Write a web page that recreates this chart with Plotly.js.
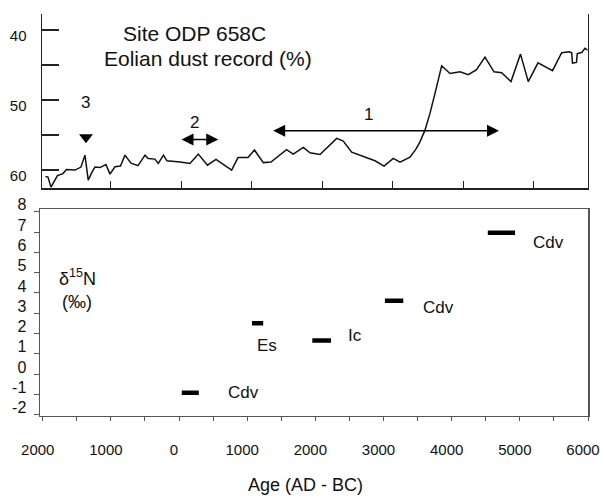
<!DOCTYPE html>
<html><head><meta charset="utf-8">
<script src="https://cdn.plot.ly/plotly-3.0.1.min.js"></script>
<style>html,body{margin:0;padding:0;background:#fff}</style>
</head><body><div id="chart" style="width:603px;height:496px"></div>
<script>
// Top panel: eolian dust record (%), age in years (negative = AD, positive = BC)
const dustAge = [-1925,-1889,-1847,-1804,-1755,-1677,-1627,-1506,-1421,-1365,-1318,-1265,-1223,-1152,-1067,-1010,-939,-861,-797,-712,-613,-513,-467,-372,-325,-251,-201,-17,125,243,373,494,716,806,948,1040,1165,1274,1494,1590,1732,1827,1969,2206,2299,2418,2583,2749,2877,3008,3104,3245,3330,3387,3458,3529,3600,3695,3813,3955,4072,4189,4309,4437,4546,4678,4813,4923,5061,5267,5397,5501,5539,5550,5607,5618,5681,5728,5766];
const dustPct = [60.93,61.0,62.43,61.57,60.79,60.5,59.93,60.0,59.57,57.86,61.43,60.29,59.57,59.64,59.21,60.57,59.53,59.43,57.86,59.0,59.36,57.86,58.36,58.43,59.04,57.86,58.67,58.86,59.04,57.71,59.29,58.47,60.0,58.21,58.21,57.14,58.93,58.86,57.07,57.71,56.76,57.53,57.76,55.47,55.86,57.43,58.0,58.67,59.43,58.33,58.86,58.14,57.0,55.96,54.29,51.9,49.04,45.1,46.19,45.96,46.36,45.64,43.86,45.96,46.1,47.36,43.43,47.36,44.67,45.79,43.24,43.1,43.24,44.71,44.61,43.36,43.21,42.61,42.86];

// Bottom panel: d15N periods
const isoLabels = ['Cdv','Es','Ic','Cdv','Cdv'];
const isoStart = [40,1070,1955,3020,4530];
const isoEnd = [290,1235,2230,3290,4930];
const isoValue = [-0.92,2.5,1.65,3.62,6.97];

// Events marked on the dust record
const eventLabels = ['1','2'];
const eventStart = [1284,-17];
const eventEnd = [4508,526];
const event3Age = [-1350];

// Axis ticks
const bottomTickVals = [-2000,-1500,-1000,-500,0,500,1000,1500,2000,2500,3000,3500,4000,4500,5000,5500,6000];
const bottomTickText = ['2000','','1000','','0','','1000','','2000','','3000','','4000','','5000','','6000'];
const isoTickVals = [-2,-1,0,1,2,3,4,5,6,7,8];
const isoTickText = ['-2','-1','0','1','2','3','4','5','6','7','8'];
const dustTickVals = [40,45,50,55,60];
const dustTickText = ['40','','50','','60'];
const topTickVals = [-1000,0,1000,2000,3000,4000,5000];

const FONT = 'Liberation Sans, Arial, Helvetica, sans-serif';

// build bar segments
const segX = [], segY = [];
isoStart.forEach((s,i)=>{ segX.push(s, isoEnd[i], null); segY.push(isoValue[i], isoValue[i], null); });

const traces = [
  {x: dustAge, y: dustPct, xaxis:'x2', yaxis:'y2', mode:'lines', line:{color:'#111', width:1.5}, hoverinfo:'skip'},
  {x: segX, y: segY, xaxis:'x', yaxis:'y', mode:'lines', line:{color:'#000', width:4.5}, hoverinfo:'skip'},
  {x: event3Age, y: [55.29], xaxis:'x2', yaxis:'y2', mode:'markers', marker:{symbol:'triangle-down', size:12, color:'#000'}, hoverinfo:'skip'}
];

function note(o){ return Object.assign({showarrow:false, xanchor:'center', yanchor:'middle'}, o); }

const isoShift = [[45,0],[4,-22],[24,5],[35,-7],[33,-10]];
const annotations = [];
isoLabels.forEach((t,i)=>{
  annotations.push(note({x: isoEnd[i], y: isoValue[i], xref:'x', yref:'y', text:t,
    xshift: isoShift[i][0], yshift: isoShift[i][1], font:{family:FONT, size:17, color:'#111'}}));
});
const eventLabelPos = [[2650,52.0],[196,53.21]];
const eventY = [54.39,55.64];
eventLabels.forEach((t,i)=>{
  annotations.push({x: eventEnd[i], y: eventY[i], ax: eventStart[i], ay: eventY[i], xref:'x2', yref:'y2', axref:'x2', ayref:'y2',
    text:'', showarrow:true, arrowhead:2, startarrowhead:2, arrowside:'end+start', arrowsize:1.6, startarrowsize:1.6, arrowwidth:1.5, arrowcolor:'#000'});
  annotations.push(note({x: eventLabelPos[i][0], y: eventLabelPos[i][1], xref:'x2', yref:'y2', text:t, font:{family:FONT, size:17, color:'#111'}}));
});
annotations.push(note({x: event3Age[0], y: 50.36, xref:'x2', yref:'y2', text:'3', font:{family:FONT, size:17, color:'#111'}}));
annotations.push(note({x:194/603, y:1-33/496, xref:'paper', yref:'paper', text:'Site ODP 658C', font:{family:FONT, size:21, color:'#111'}}));
annotations.push(note({x:208/603, y:1-58.5/496, xref:'paper', yref:'paper', text:'Eolian dust record (%)', font:{family:FONT, size:21, color:'#111'}}));
annotations.push(note({x:77/603, y:1-277/496, xref:'paper', yref:'paper', text:'δ<sup>15</sup>N', font:{family:FONT, size:18, color:'#111'}}));
annotations.push(note({x:77/603, y:1-302/496, xref:'paper', yref:'paper', text:'(‰)', font:{family:FONT, size:18, color:'#111'}}));
annotations.push(note({x:305/603, y:1-485/496, xref:'paper', yref:'paper', text:'Age (AD - BC)', font:{family:FONT, size:18, color:'#111'}}));

const layout = {
  width:603, height:496, margin:{l:0,r:0,t:0,b:0}, showlegend:false,
  paper_bgcolor:'#fff', plot_bgcolor:'rgba(0,0,0,0)',
  font:{family:FONT, size:15, color:'#111'},
  xaxis:{domain:[40/603,588/603], range:[-2040,6000], anchor:'y', tickmode:'array', tickvals:bottomTickVals, ticktext:bottomTickText,
    ticks:'outside', ticklen:4, tickcolor:'#555', tickwidth:1, showline:true, linecolor:'#555', linewidth:1.5, mirror:true,
    showgrid:false, zeroline:false, tickfont:{family:FONT,size:15,color:'#111'}, ticklabelshift:-5, ticklabelstandoff:16},
  yaxis:{domain:[80.3/496, 286.7/496], range:[-2.05,8.12], anchor:'x', tickmode:'array', tickvals:isoTickVals, ticktext:isoTickText,
    ticks:'outside', ticklen:5, tickcolor:'#555', showline:true, linecolor:'#555', linewidth:1.5, mirror:true,
    showgrid:false, zeroline:false, tickfont:{family:FONT,size:16,color:'#111'}, ticklabelshift:-7, ticklabelstandoff:4},
  xaxis2:{domain:[42/603,587.7/603], range:[-1974,5766], anchor:'y2', tickmode:'array', tickvals:topTickVals, showticklabels:false,
    ticks:'inside', ticklen:7, tickcolor:'#222', tickwidth:1.3, showline:true, linecolor:'#222', linewidth:1.5,
    showgrid:false, zeroline:false},
  yaxis2:{domain:[307.7/496, 482/496], range:[62.6,37.7], anchor:'x2', tickmode:'array', tickvals:dustTickVals, ticktext:dustTickText,
    ticks:'inside', ticklen:17, tickcolor:'#222', tickwidth:1.5, showline:true, linecolor:'#222', linewidth:1.5, mirror:true,
    showgrid:false, zeroline:false, tickfont:{family:FONT,size:15,color:'#111'}, ticklabelshift:-6, ticklabelstandoff:11},
  annotations: annotations
};
Plotly.newPlot('chart', traces, layout, {staticPlot:true, displayModeBar:false});
</script></body></html>
